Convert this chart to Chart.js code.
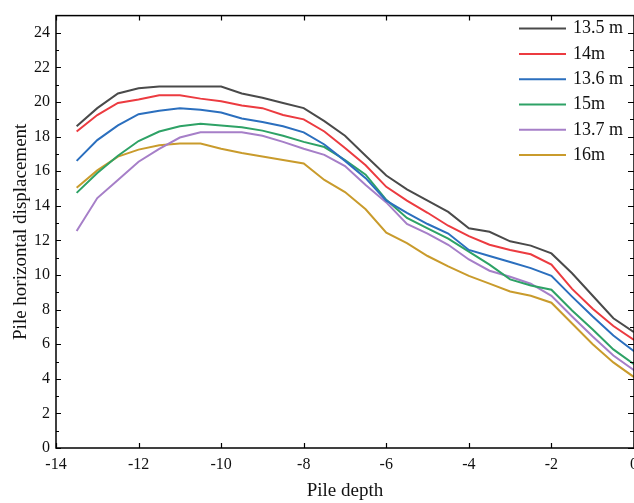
<!DOCTYPE html>
<html>
<head>
<meta charset="utf-8">
<script src="https://cdn.jsdelivr.net/npm/chart.js@4.4.0/dist/chart.umd.min.js"></script>
<style>
  html, body { margin: 0; padding: 0; background: #fff; overflow: hidden; }
  canvas { display: block; }
</style>
</head>
<body>
<canvas id="myChart" width="634" height="503"></canvas>
<script>
// pile depth positions (m)
const depths = [-13.5, -13, -12.5, -12, -11.5, -11, -10.5, -10, -9.5, -9, -8.5, -8, -7.5, -7,
                -6.5, -6, -5.5, -5, -4.5, -4, -3.5, -3, -2.5, -2, -1.5, -1, -0.5, 0];

const seriesNames = ['13.5 m', '14m', '13.6 m', '15m', '13.7 m', '16m'];

const yTicks = [0, 2, 4, 6, 8, 10, 12, 14, 16, 18, 20, 22, 24];
const xTicks = [-14, -12, -10, -8, -6, -4, -2, 0];

const disp135 = [18.6, 19.65, 20.5, 20.8, 20.9, 20.9, 20.9, 20.9, 20.5, 20.25, 19.95, 19.65, 18.9, 18.05,
                 16.9, 15.75, 14.95, 14.3, 13.65, 12.7, 12.5, 11.95, 11.7, 11.25, 10.1, 8.8, 7.5, 6.7];
const disp14 = [18.3, 19.25, 19.95, 20.15, 20.4, 20.4, 20.2, 20.05, 19.8, 19.65, 19.25, 19.0, 18.3, 17.35,
                16.35, 15.1, 14.3, 13.6, 12.85, 12.25, 11.75, 11.45, 11.2, 10.6, 9.2, 8.05, 7.05, 6.25];
const disp136 = [16.6, 17.8, 18.65, 19.3, 19.5, 19.65, 19.55, 19.4, 19.05, 18.85, 18.6, 18.25, 17.55, 16.6,
                 15.6, 14.3, 13.6, 12.95, 12.4, 11.45, 11.1, 10.75, 10.4, 9.95, 8.75, 7.6, 6.5, 5.6];
const disp15 = [14.75, 15.9, 16.9, 17.75, 18.3, 18.6, 18.75, 18.65, 18.55, 18.35, 18.05, 17.7, 17.4, 16.65,
                15.8, 14.35, 13.3, 12.7, 12.1, 11.35, 10.6, 9.75, 9.4, 9.15, 7.95, 6.85, 5.7, 4.85];
const disp137 = [12.55, 14.45, 15.5, 16.55, 17.3, 17.95, 18.25, 18.25, 18.25, 18.05, 17.7, 17.3, 16.95, 16.3,
                 15.2, 14.2, 12.95, 12.4, 11.75, 10.9, 10.25, 9.9, 9.5, 8.8, 7.6, 6.45, 5.35, 4.5];
const disp16 = [15.05, 16.05, 16.85, 17.25, 17.5, 17.6, 17.6, 17.3, 17.05, 16.85, 16.65, 16.45, 15.5, 14.8,
                13.8, 12.45, 11.85, 11.1, 10.5, 9.95, 9.5, 9.05, 8.8, 8.4, 7.2, 6.0, 4.95, 4.1];

const colors = ['#4a4a4a', '#ec3b40', '#2b6fbe', '#2ea266', '#a67fc8', '#c99b2c'];
const allSeries = [disp135, disp14, disp136, disp15, disp137, disp16];

const serif = "'Liberation Serif', 'Times New Roman', serif";

// frame, inward ticks on all four sides, and the legend inside the plot
const framePlugin = {
    id: 'frame',
    afterDraw(chart) {
        const { ctx, chartArea: a, scales } = chart;
        const x = scales.x, y = scales.y;
        ctx.save();
        ctx.strokeStyle = '#000';
        ctx.lineWidth = 1.5;
        ctx.strokeRect(a.left, a.top, a.right - a.left, a.bottom - a.top);
        ctx.lineWidth = 1.2;
        ctx.beginPath();
        for (let v = 0; v <= 24; v++) {
            const py = Math.round(y.getPixelForValue(v)) + 0.5;
            const len = v % 2 === 0 ? 5 : 3;
            ctx.moveTo(a.left, py); ctx.lineTo(a.left + len, py);
            ctx.moveTo(a.right, py); ctx.lineTo(a.right - len - 1, py);
        }
        xTicks.forEach(v => {
            const px = Math.round(x.getPixelForValue(v)) + 0.5;
            ctx.moveTo(px, a.bottom); ctx.lineTo(px, a.bottom - 5);
            ctx.moveTo(px, a.top); ctx.lineTo(px, a.top + 5);
        });
        ctx.stroke();

        // legend
        ctx.font = '18px ' + serif;
        ctx.textBaseline = 'middle';
        ctx.fillStyle = '#111';
        chart.data.datasets.forEach((ds, i) => {
            const ly = a.top + 13 + i * 25.3;
            ctx.strokeStyle = ds.borderColor;
            ctx.lineWidth = 2;
            ctx.beginPath();
            ctx.moveTo(a.right - 115, ly);
            ctx.lineTo(a.right - 68, ly);
            ctx.stroke();
            ctx.fillText(ds.label, a.right - 61, ly);
        });
        ctx.restore();
    }
};

const ctx = document.getElementById('myChart').getContext('2d');
const myChart = new Chart(ctx, {
    type: 'line',
    data: {
        datasets: allSeries.map((vals, i) => ({
            label: seriesNames[i],
            data: depths.map((d, j) => ({ x: d, y: vals[j] })),
            borderColor: colors[i],
            backgroundColor: colors[i],
            borderWidth: 2,
            pointRadius: 0,
            tension: 0,
            fill: false,
        })),
    },
    options: {
        responsive: false,
        animation: false,
        layout: { padding: { top: 5, right: -1, left: 0, bottom: 0 } },
        plugins: {
            legend: { display: false },
            tooltip: { enabled: false },
        },
        scales: {
            x: {
                type: 'linear',
                min: -14,
                max: 0,
                grid: { display: false, drawTicks: false },
                border: { display: false },
                ticks: { padding: 7, color: '#111', font: { family: serif, size: 16 }, maxRotation: 0 },
                afterBuildTicks(scale) { scale.ticks = xTicks.map(v => ({ value: v })); },
                title: { display: true, text: 'Pile depth', color: '#111', font: { family: serif, size: 19 }, padding: { top: 0, bottom: 1 } },
                afterFit(scale) {
                    scale.height = 55;
                    // let the last label run off the edge, as in the original figure
                    scale.paddingLeft = 0;
                    scale.paddingRight = 0;
                },
            },
            y: {
                min: 0,
                max: 25,
                grid: { display: false, drawTicks: false },
                border: { display: false },
                ticks: { padding: 6, color: '#111', font: { family: serif, size: 16 } },
                afterBuildTicks(scale) { scale.ticks = yTicks.map(v => ({ value: v })); },
                title: { display: true, text: 'Pile horizontal displacement', color: '#111', font: { family: serif, size: 19 }, padding: { top: 10, bottom: 0 } },
                afterFit(scale) { scale.width = 56; },
            },
        },
    },
    plugins: [framePlugin],
});
</script>
</body>
</html>
